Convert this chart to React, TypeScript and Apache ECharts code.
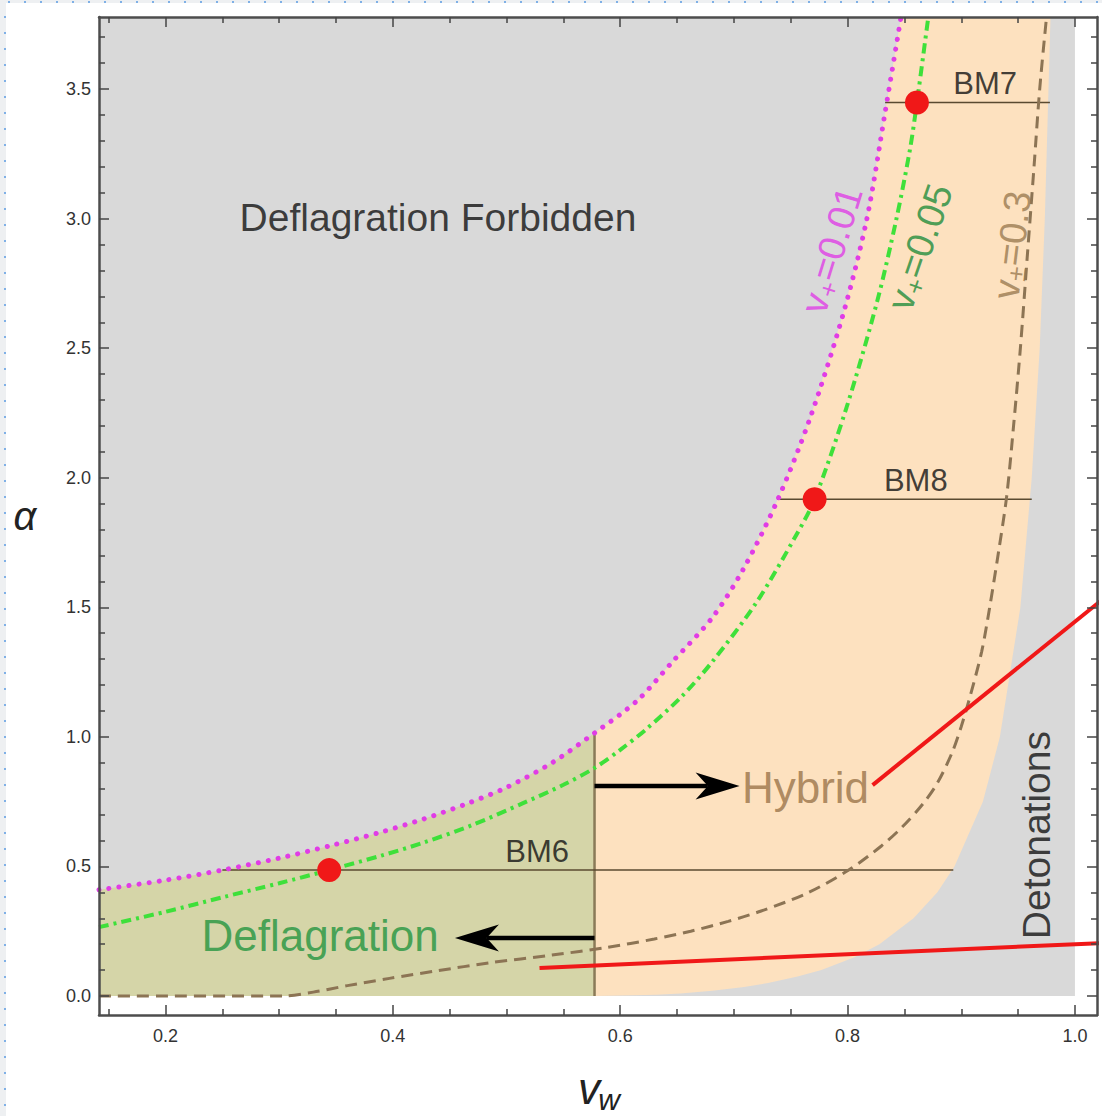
import React, { useEffect, useRef } from "react";
import * as echarts from "echarts";

// ---------- axis ranges & ticks ----------
const X_MIN = 0.1415;
const X_MAX = 1.0194;
const Y_MIN = -0.0733;
const Y_MAX = 3.778;
const CS = 0.5774; // 1/sqrt(3)
const DET_EDGE = 1.0;

const X_MAJOR = [0.2, 0.4, 0.6, 0.8, 1.0];
const X_MINOR = [0.15, 0.25, 0.3, 0.35, 0.45, 0.5, 0.55, 0.65, 0.7, 0.75, 0.85, 0.9, 0.95];
const Y_MAJOR = [0, 0.5, 1.0, 1.5, 2.0, 2.5, 3.0, 3.5];
const Y_MINOR = [0.1, 0.2, 0.3, 0.4, 0.6, 0.7, 0.8, 0.9, 1.1, 1.2, 1.3, 1.4, 1.6, 1.7, 1.8, 1.9,
  2.1, 2.2, 2.3, 2.4, 2.6, 2.7, 2.8, 2.9, 3.1, 3.2, 3.3, 3.4, 3.6, 3.7];

// ---------- curves ----------
// v+ = 0.01 (magenta dotted)
const VP001_V = [0.1415, 0.2, 0.25, 0.3, 0.345, 0.39, 0.427, 0.465, 0.5, 0.54, 0.5774, 0.615, 0.646, 0.681, 0.708, 0.738, 0.767, 0.796, 0.817, 0.833, 0.847];
const VP001_A = [0.41, 0.447, 0.486, 0.532, 0.58, 0.633, 0.683, 0.742, 0.805, 0.9, 1.015, 1.14, 1.29, 1.46, 1.645, 1.91, 2.23, 2.63, 3.0, 3.41, 3.778];
// v+ = 0.05 (green dash-dot)
const VP005_V = [0.1415, 0.2, 0.251, 0.3, 0.344, 0.39, 0.427, 0.47, 0.515, 0.55, 0.5774, 0.6, 0.623, 0.655, 0.681, 0.72, 0.755, 0.771, 0.799, 0.826, 0.843, 0.855, 0.861, 0.871];
const VP005_A = [0.266, 0.325, 0.382, 0.435, 0.486, 0.542, 0.592, 0.66, 0.745, 0.815, 0.88, 0.95, 1.03, 1.16, 1.29, 1.52, 1.78, 1.917, 2.27, 2.68, 3.0, 3.27, 3.448, 3.778];
// v± = 0.3 (brown dashed)
const VPM03_V = [0.1415, 0.303, 0.33, 0.36, 0.397, 0.44, 0.485, 0.54, 0.588, 0.63, 0.662, 0.695, 0.724, 0.765, 0.801, 0.83, 0.848, 0.866, 0.879, 0.892, 0.9, 0.908, 0.918, 0.925, 0.933, 0.94, 0.946, 0.952, 0.958, 0.964, 0.969, 0.975];
const VPM03_A = [0, 0, 0.015, 0.04, 0.068, 0.098, 0.128, 0.158, 0.187, 0.22, 0.25, 0.288, 0.328, 0.398, 0.486, 0.58, 0.652, 0.74, 0.822, 0.94, 1.04, 1.16, 1.33, 1.5, 1.72, 1.93, 2.2, 2.5, 2.85, 3.2, 3.5, 3.778];
// Jouguet boundary (hybrid / detonation)
const VJ_A = [0, 0.005, 0.01, 0.02, 0.035, 0.05, 0.075, 0.1, 0.15, 0.2, 0.3, 0.4, 0.5, 0.75, 1.0, 1.5, 2.0, 2.5, 3.0, 3.778];
const VJ_V = [0.5774, 0.632, 0.653, 0.681, 0.709, 0.73, 0.756, 0.777, 0.806, 0.828, 0.858, 0.879, 0.894, 0.919, 0.934, 0.952, 0.962, 0.969, 0.9735, 0.9785];

// ---------- benchmarks ----------
const BM_NAMES = ["BM6", "BM8", "BM7"];
const BM_V = [0.344, 0.771, 0.861];
const BM_A = [0.486, 1.917, 3.448];
const BM_LINE_FROM = [0.25, 0.738, 0.833];
const BM_LINE_TO = [0.893, 0.962, 0.978];

// ---------- arrows & red annotation lines ----------
const ARROW_HYBRID_V = [CS, 0.705];
const ARROW_HYBRID_A = [0.81, 0.81];
const ARROW_DEFL_V = [CS, 0.4546];
const ARROW_DEFL_A = [0.224, 0.224];
const RED1_V = [0.822, 1.0235];
const RED1_A = [0.814, 1.528];
const RED2_V = [0.529, 1.0235];
const RED2_A = [0.108, 0.2045];

// ---------- colours ----------
const GRAY = "#d9d9d9";
const OLIVE = "#d5d5a8";
const PEACH = "#fde1bf";
const MAGENTA = "#e03ce6";
const LGREEN = "#3ee03a";
const DGREEN = "#1f8c3a";
const BROWN = "#8c7454";
const BROWN_TXT = "#9a7a50";
const RED = "#f01818";
const FRAME = "#4d4d4d";
const TICK = "#444";
const FONT = "'Liberation Sans', Arial, sans-serif";

const zip = (xs: number[], ys: number[]) => xs.map((x, i) => [x, ys[i]]);

function polygonSeries(points: number[][], color: string, z: number) {
  return {
    type: "custom",
    coordinateSystem: "cartesian2d",
    silent: true,
    clip: true,
    z,
    data: [points[0]],
    renderItem: (_p: any, api: any) => ({
      type: "polygon",
      shape: { points: points.map((p) => api.coord(p)) },
      style: { fill: color, stroke: null },
    }),
  };
}

function xAxisCfg(position: string, values: number[], len: number, labels: boolean, line: boolean) {
  return {
    type: "value",
    min: X_MIN,
    max: X_MAX,
    position,
    z: 10,
    axisLine: { show: line, onZero: false, lineStyle: { color: FRAME, width: 2.5 } },
    axisTick: { show: true, inside: true, length: len, customValues: values, lineStyle: { color: TICK, width: 1.5 } },
    axisLabel: labels
      ? { show: true, customValues: values, formatter: (v: number) => v.toFixed(1), fontSize: 18, color: "#333", margin: 12, fontFamily: FONT }
      : { show: false },
    splitLine: { show: false },
  };
}

function yAxisCfg(position: string, values: number[], len: number, labels: boolean, line: boolean) {
  return {
    type: "value",
    min: Y_MIN,
    max: Y_MAX,
    position,
    z: 10,
    axisLine: { show: line, onZero: false, lineStyle: { color: FRAME, width: 2.5 } },
    axisTick: { show: true, inside: true, length: len, customValues: values, lineStyle: { color: TICK, width: 1.5 } },
    axisLabel: labels
      ? { show: true, customValues: values, formatter: (v: number) => v.toFixed(1), fontSize: 18, color: "#333", margin: 8, fontFamily: FONT }
      : { show: false },
    splitLine: { show: false },
  };
}

function textItem(v: number, a: number, formatter: string, extra: any) {
  return {
    value: [v, a],
    label: { show: true, position: "inside", formatter, fontFamily: FONT, ...extra },
  };
}

function subRich(color: string, size: number, sub: number) {
  return {
    b: { fontSize: size, color, fontFamily: FONT },
    s: { fontSize: sub, color, fontFamily: FONT, padding: [Math.round(size * 0.45), 0, 0, 0] },
  };
}

function curve(xs: number[], ys: number[], lineStyle: any) {
  return {
    type: "line",
    data: zip(xs, ys),
    symbol: "none",
    smooth: 0.3,
    silent: true,
    z: 4,
    lineStyle,
  };
}

// Arrow: shaft + dart-shaped head, built from data coordinates via api.coord
function arrowSeries(arrows: { v: number[]; a: number[] }[]) {
  const HEAD_LEN = 44;
  const HEAD_HALF = 13.5;
  return {
    type: "custom",
    coordinateSystem: "cartesian2d",
    silent: true,
    z: 5,
    encode: { x: [0, 2], y: [1, 3] },
    data: arrows.map((ar) => [ar.v[0], ar.a[0], ar.v[ar.v.length - 1], ar.a[ar.a.length - 1]]),
    renderItem: (_p: any, api: any) => {
      const p0 = api.coord([api.value(0), api.value(1)]);
      const p1 = api.coord([api.value(2), api.value(3)]);
      const dx = p1[0] - p0[0];
      const dy = p1[1] - p0[1];
      const len = Math.sqrt(dx * dx + dy * dy) || 1;
      const ux = dx / len;
      const uy = dy / len;
      const nx = -uy;
      const ny = ux;
      const back = [p1[0] - ux * HEAD_LEN, p1[1] - uy * HEAD_LEN];
      const notch = [p1[0] - ux * HEAD_LEN * 0.72, p1[1] - uy * HEAD_LEN * 0.72];
      return {
        type: "group",
        children: [
          {
            type: "line",
            shape: { x1: p0[0], y1: p0[1], x2: notch[0], y2: notch[1] },
            style: { stroke: "#000", lineWidth: 4.5 },
          },
          {
            type: "polygon",
            shape: {
              points: [
                p1,
                [back[0] + nx * HEAD_HALF, back[1] + ny * HEAD_HALF],
                notch,
                [back[0] - nx * HEAD_HALF, back[1] - ny * HEAD_HALF],
              ],
            },
            style: { fill: "#000", stroke: null },
          },
        ],
      };
    },
  };
}

function buildOption(): any {
  const mag = zip(VP001_V, VP001_A);
  const magLower = mag.filter((p) => p[0] <= CS + 1e-9);
  const magUpper = mag.filter((p) => p[0] >= CS - 1e-9);
  const grayPoly = [[X_MIN, 0], [DET_EDGE, 0], [DET_EDGE, Y_MAX], [X_MIN, Y_MAX]];
  const olivePoly = [[X_MIN, 0], [CS, 0], ...magLower.slice().reverse()];
  const peachPoly = [...zip(VJ_V, VJ_A), ...magUpper.slice().reverse()];
  const csTop = magUpper[0][1];

  const bmLines = BM_NAMES.map((_, i) => ({
    type: "line",
    data: [[BM_LINE_FROM[i], BM_A[i]], [BM_LINE_TO[i], BM_A[i]]],
    symbol: "none",
    silent: true,
    z: 3,
    lineStyle: { color: "#5a4a30", width: 1.6 },
  }));

  return {
    animation: false,
    textStyle: { fontFamily: FONT },
    grid: { left: 99, top: 17, width: 998, height: 998, show: false },
    xAxis: [
      xAxisCfg("bottom", X_MAJOR, 10, true, true),
      xAxisCfg("bottom", X_MINOR, 6, false, false),
      xAxisCfg("top", X_MAJOR, 10, false, true),
      xAxisCfg("top", X_MINOR, 6, false, false),
    ],
    yAxis: [
      yAxisCfg("left", Y_MAJOR, 10, true, true),
      yAxisCfg("left", Y_MINOR, 6, false, false),
      yAxisCfg("right", Y_MAJOR, 10, false, true),
      yAxisCfg("right", Y_MINOR, 6, false, false),
    ],
    graphic: [
      {
        type: "text",
        x: 25,
        y: 516,
        z: 100,
        style: { text: "α", font: `italic 40px ${FONT}`, fill: "#222", align: "center", verticalAlign: "middle" },
      },
      {
        type: "text",
        x: 589,
        y: 1088,
        z: 100,
        style: { text: "v", font: `italic 44px ${FONT}`, fill: "#222", align: "center", verticalAlign: "middle" },
      },
      {
        type: "text",
        x: 609,
        y: 1099,
        z: 100,
        style: { text: "w", font: `italic 30px ${FONT}`, fill: "#222", align: "center", verticalAlign: "middle" },
      },
    ],
    series: [
      polygonSeries(grayPoly, GRAY, 1),
      polygonSeries(olivePoly, OLIVE, 1),
      polygonSeries(peachPoly, PEACH, 1),
      {
        type: "line",
        data: [[CS, 0], [CS, csTop]],
        symbol: "none",
        silent: true,
        z: 3,
        lineStyle: { color: "#8a7a58", width: 2.5 },
      },
      ...bmLines,
      curve(VPM03_V, VPM03_A, { color: BROWN, width: 3, type: [12, 7] }),
      curve(VP005_V, VP005_A, { color: LGREEN, width: 4, type: [10, 5, 3, 5] }),
      curve(VP001_V, VP001_A, { color: MAGENTA, width: 5, type: [0.1, 10], cap: "round" }),
      arrowSeries([
        { v: ARROW_HYBRID_V, a: ARROW_HYBRID_A },
        { v: ARROW_DEFL_V, a: ARROW_DEFL_A },
      ]),
      {
        type: "scatter",
        data: zip(BM_V, BM_A),
        symbolSize: 24,
        silent: true,
        z: 6,
        itemStyle: { color: RED, opacity: 1 },
      },
      {
        type: "line",
        data: zip(RED1_V, RED1_A),
        symbol: "none",
        clip: false,
        silent: true,
        z: 7,
        lineStyle: { color: RED, width: 4 },
      },
      {
        type: "line",
        data: zip(RED2_V, RED2_A),
        symbol: "none",
        clip: false,
        silent: true,
        z: 7,
        lineStyle: { color: RED, width: 4 },
      },
      {
        type: "scatter",
        symbolSize: 1,
        silent: true,
        z: 8,
        itemStyle: { color: "rgba(0,0,0,0)" },
        data: [
          textItem(0.4397, 3.006, "Deflagration Forbidden", { fontSize: 39, color: "#111" }),
          textItem(0.336, 0.235, "Deflagration", { fontSize: 44, color: "#22943f" }),
          textItem(0.763, 0.806, "Hybrid", { fontSize: 44, color: "#9a7348" }),
          textItem(0.9665, 0.621, "Detonations", { fontSize: 39, color: "#111", rotate: 90 }),
          ...BM_NAMES.map((n, i) =>
            textItem([0.527, 0.86, 0.921][i], [0.556, 1.991, 3.523][i], n, { fontSize: 31, color: "#111" })
          ),
          textItem(0.786, 2.879, "{b|v}{s|+}{b|=0.01}", { rotate: 73, rich: subRich(MAGENTA, 38, 26) }),
          textItem(0.8636, 2.89, "{b|v}{s|+}{b|=0.05}", { rotate: 71, rich: subRich(DGREEN, 38, 26) }),
          textItem(0.9445, 2.898, "{b|v}{s|±}{b|=0.3}", { rotate: 83, rich: subRich(BROWN_TXT, 38, 26) }),
        ],
      },
    ],
  };
}

export default function App() {
  const ref = useRef<HTMLDivElement>(null);
  useEffect(() => {
    document.body.style.margin = "0";
    const chart = echarts.init(ref.current as HTMLDivElement, null, { renderer: "svg" });
    chart.setOption(buildOption());
    return () => chart.dispose();
  }, []);
  return (
    <div style={{ position: "relative", width: 1102, height: 1116, background: "#fff", overflow: "hidden" }}>
      <div ref={ref} style={{ position: "absolute", left: 0, top: 0, width: 1102, height: 1116 }} />
      <div style={{ position: "absolute", left: 0, top: 0, width: 6, height: 1116, background: "#eef0f2" }} />
      <div
        style={{
          position: "absolute",
          left: 4,
          top: 0,
          width: 2,
          height: 1116,
          backgroundImage: "repeating-linear-gradient(to bottom, #7fb0e6 0px, #7fb0e6 2px, transparent 2px, transparent 16px)",
        }}
      />
      <div style={{ position: "absolute", left: 0, top: 0, width: 1102, height: 3, background: "#eef0f2" }} />
      <div
        style={{
          position: "absolute",
          left: 8,
          top: 1,
          width: 1094,
          height: 2,
          backgroundImage: "repeating-linear-gradient(to right, #7fb0e6 0px, #7fb0e6 2px, transparent 2px, transparent 16px)",
        }}
      />
    </div>
  );
}
